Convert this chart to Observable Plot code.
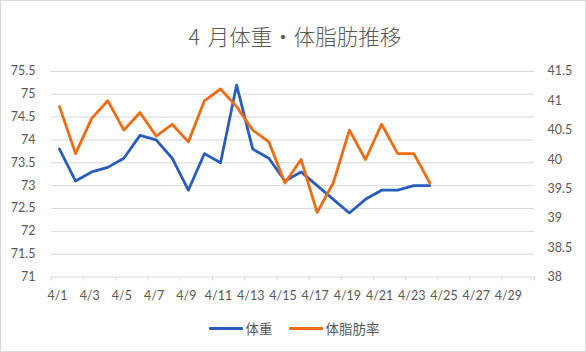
<!DOCTYPE html>
<html>
<head>
<meta charset="utf-8">
<script src="https://cdn.jsdelivr.net/npm/d3@7"></script>
<script src="https://cdn.jsdelivr.net/npm/@observablehq/plot@0.6"></script>
<style>
  html, body { margin: 0; padding: 0; background: #fff; }
  #wrap { position: relative; width: 586px; height: 352px; box-sizing: border-box; border: 1px solid #d9d9d9; overflow: hidden; font-family: Lato, "Noto Sans CJK JP", sans-serif; }
  #chart { position: absolute; left: -1px; top: -1px; }
  #title { position: absolute; left: 0; top: 23px; width: 588px; text-align: center; font-family: "Noto Sans CJK JP", sans-serif; font-size: 21.5px; line-height: 24px; color: #595959; font-weight: 300; word-spacing: 3px; }
  #legend { position: absolute; left: 0; top: 317px; width: 586px; display: flex; justify-content: center; align-items: center; font-family: "Noto Sans CJK JP", sans-serif; font-size: 13.5px; color: #595959; }
  .item { display: flex; align-items: center; margin: 0 8px; }
  .sw { width: 34px; height: 3px; margin-right: 3px; border-radius: 1px; }
</style>
</head>
<body>
<div id="wrap">
  <div id="chart"></div>
  <div id="title">4 月体重・体脂肪推移</div>
  <div id="legend"></div>
</div>
<script>
// ---- data ----
const dates = ["4/1","4/2","4/3","4/4","4/5","4/6","4/7","4/8","4/9","4/10","4/11","4/12","4/13","4/14","4/15","4/16","4/17","4/18","4/19","4/20","4/21","4/22","4/23","4/24"];
const weight = [73.8,73.1,73.3,73.4,73.6,74.1,74.0,73.6,72.9,73.7,73.5,75.2,73.8,73.6,73.1,73.3,73.0,72.7,72.4,72.7,72.9,72.9,73.0,73.0];
const bodyFat = [40.9,40.1,40.7,41.0,40.5,40.8,40.4,40.6,40.3,41.0,41.2,40.9,40.5,40.3,39.6,40.0,39.1,39.6,40.5,40.0,40.6,40.1,40.1,39.6];
const xTickLabels = ["4/1","4/3","4/5","4/7","4/9","4/11","4/13","4/15","4/17","4/19","4/21","4/23","4/25","4/27","4/29"];
const leftTicks = [71,71.5,72,72.5,73,73.5,74,74.5,75,75.5];
const rightTicks = [38,38.5,39,39.5,40,40.5,41,41.5];
const seriesNames = ["体重","体脂肪率"];
const colors = ["#2a5cc0","#ef6c12"];

// ---- scales helpers ----
const leftDomain = [71, 75.5];
const rightDomain = [38, 41.5];
const toLeft = v => leftDomain[0] + (v - rightDomain[0]) * (leftDomain[1] - leftDomain[0]) / (rightDomain[1] - rightDomain[0]);
const fromLeft = v => rightDomain[0] + (v - leftDomain[0]) * (rightDomain[1] - rightDomain[0]) / (leftDomain[1] - leftDomain[0]);
const dayOf = s => +s.split("/")[1];
const fmt = v => String(+v.toFixed(1));

const wData = dates.map((d, i) => ({day: dayOf(d), v: weight[i]}));
const fData = dates.map((d, i) => ({day: dayOf(d), v: toLeft(bodyFat[i])}));
const nDays = 30;
const boundaries = d3.range(0.5, nDays + 1, 2);

const plot = Plot.plot({
  width: 586,
  height: 352,
  marginLeft: 51,
  marginRight: 51,
  marginTop: 71,
  marginBottom: 75,
  style: {fontFamily: 'Lato, "Noto Sans CJK JP", sans-serif', fontSize: "12px", color: "#595959", background: "transparent"},
  x: {domain: [0.5, nDays + 0.5]},
  y: {domain: leftDomain},
  marks: [
    Plot.ruleY(leftTicks, {stroke: "#d9d9d9", strokeWidth: 1}),
    Plot.axisY({anchor: "left", ticks: leftTicks, tickSize: 0, tickPadding: 16, tickFormat: fmt, label: null, fontSize: 12.5}),
    Plot.axisY({anchor: "right", ticks: rightTicks.map(toLeft), tickSize: 0, tickPadding: 13, tickFormat: d => fmt(fromLeft(d)), label: null, fontSize: 12.5}),
    Plot.axisX({ticks: boundaries, tickSize: 4, tickFormat: () => "", stroke: "#d9d9d9", label: null}),
    Plot.axisX({ticks: xTickLabels.map(dayOf), tickSize: 0, tickPadding: 14, tickFormat: d => xTickLabels[xTickLabels.map(dayOf).indexOf(d)], label: null, fontSize: 12.5, dx: -2}),
    Plot.line(wData, {x: "day", y: "v", stroke: colors[0], strokeWidth: 2.8}),
    Plot.line(fData, {x: "day", y: "v", stroke: colors[1], strokeWidth: 2.8})
  ]
});
document.getElementById("chart").appendChild(plot);

const legend = document.getElementById("legend");
seriesNames.forEach((n, i) => {
  const it = document.createElement("div");
  it.className = "item";
  const sw = document.createElement("div");
  sw.className = "sw";
  sw.style.background = colors[i];
  const t = document.createElement("span");
  t.textContent = n;
  it.appendChild(sw); it.appendChild(t);
  legend.appendChild(it);
});
</script>
</body>
</html>
